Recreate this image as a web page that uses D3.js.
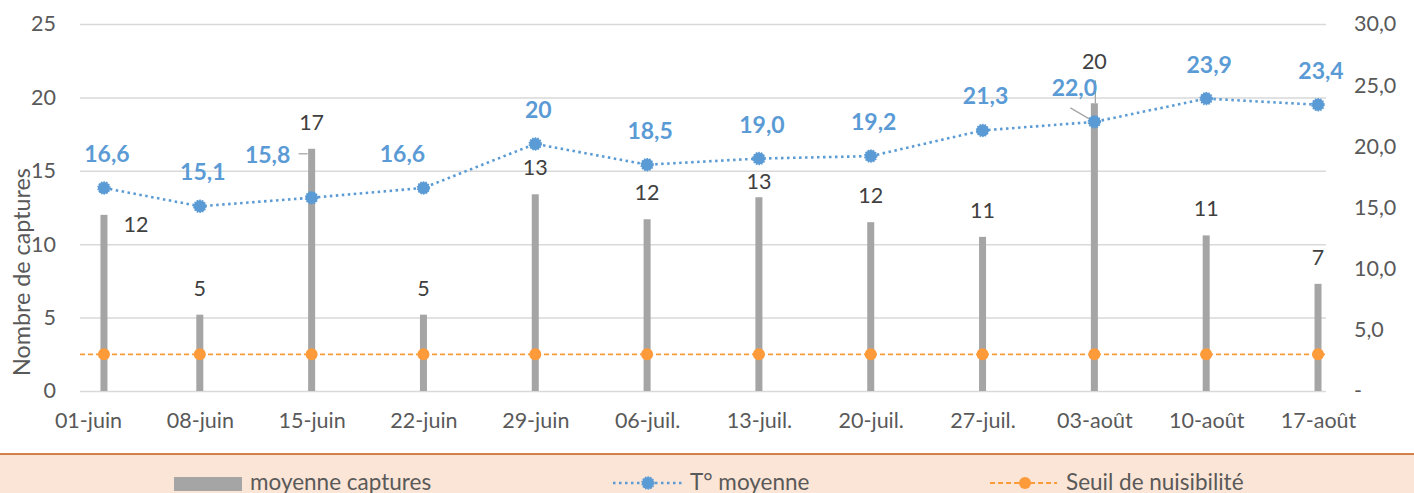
<!DOCTYPE html>
<html><head><meta charset="utf-8">
<script src="https://cdn.jsdelivr.net/npm/d3@7"></script>
<style>
html,body{margin:0;padding:0;background:#fff;overflow:hidden;}
svg{display:block;font-family:Lato, "Open Sans", sans-serif;}
</style></head>
<body>
<svg id="chart" width="1414" height="493"></svg>
<script>
// ---- data ----
const dates = ["2020-06-02","2020-06-08","2020-06-15","2020-06-22","2020-06-29","2020-07-06","2020-07-13","2020-07-20","2020-07-27","2020-08-03","2020-08-10","2020-08-17"];
const captures = [12.0, 5.2, 16.5, 5.2, 13.4, 11.7, 13.2, 11.5, 10.5, 19.6, 10.6, 7.3];
const captureLabels = ["12","5","17","5","13","12","13","12","11","20","11","7"];
const temperature = [16.6, 15.1, 15.8, 16.6, 20.2, 18.5, 19.0, 19.2, 21.3, 22.0, 23.9, 23.4];
const temperatureLabels = ["16,6","15,1","15,8","16,6","20","18,5","19,0","19,2","21,3","22,0","23,9","23,4"];
const seuil = [2.5, 2.5, 2.5, 2.5, 2.5, 2.5, 2.5, 2.5, 2.5, 2.5, 2.5, 2.5];
const tickDates = ["2020-06-01","2020-06-08","2020-06-15","2020-06-22","2020-06-29","2020-07-06","2020-07-13","2020-07-20","2020-07-27","2020-08-03","2020-08-10","2020-08-17"];
const tickLabels = ["01-juin","08-juin","15-juin","22-juin","29-juin","06-juil.","13-juil.","20-juil.","27-juil.","03-août","10-août","17-août"];
const leftTicks = [0,5,10,15,20,25];
const rightTicks = [0,5,10,15,20,25,30];
const legendLabels = ["moyenne captures","T° moyenne","Seuil de nuisibilité"];
const yTitle = "Nombre de captures";

// ---- layout ----
const L = 80, R = 1326, T = 24, B = 391;
const DAY = 86400000;
const parse = s => new Date(s + "T00:00:00Z");
const dts = dates.map(parse);
const tds = tickDates.map(parse);

const svg = d3.select("#chart");
const x = d3.scaleUtc().domain([new Date(+tds[0] - DAY/2), new Date(+tds[tds.length-1] + DAY/2)]).range([L, R]);
const y = d3.scaleLinear().domain([0, 25]).range([B, T]);
const y2 = d3.scaleLinear().domain([0, 30]).range([B, T]);

const gridColor = "#d9d9d9", textColor = "#595959", labelDark = "#404040";
const blue = "#5b9bd5", orange = "#fd9a3a", grey = "#a5a5a5";
const axisFont = "21.5px";

// gridlines
const grid = svg.append("g").attr("transform", `translate(${L},0)`)
  .call(d3.axisLeft(y).tickValues(leftTicks).tickSize(-(R - L)).tickFormat(""));
grid.select(".domain").remove();
grid.selectAll("line").attr("stroke", gridColor).attr("stroke-width", 1.5);

// left axis labels
const la = svg.append("g").attr("transform", `translate(${L},0)`)
  .call(d3.axisLeft(y).tickValues(leftTicks).tickSize(0).tickPadding(24));
la.select(".domain").remove();
la.selectAll("text").attr("fill", textColor).style("font-size", axisFont).style("font-family", "Lato");

// right axis labels
const ra = svg.append("g").attr("transform", `translate(${R},0)`)
  .call(d3.axisRight(y2).tickValues(rightTicks).tickSize(0).tickPadding(28)
    .tickFormat(d => d === 0 ? "-" : d.toFixed(1).replace(".", ",")));
ra.select(".domain").remove();
ra.selectAll("text").attr("fill", textColor).style("font-size", axisFont).style("font-family", "Lato");

// bottom axis labels
const xa = svg.append("g").attr("transform", `translate(0,${B})`)
  .call(d3.axisBottom(x).tickValues(tds).tickSize(0).tickFormat((d, i) => tickLabels[i]));
xa.select(".domain").remove();
xa.selectAll("text").attr("y", 0).attr("dy", 0).attr("transform", "translate(0,37)")
  .attr("fill", textColor).style("font-size", axisFont).style("font-family", "Lato");

// y axis title
svg.append("text").attr("transform", "translate(30,272) rotate(-90)")
  .attr("text-anchor", "middle").attr("fill", textColor)
  .style("font-size", "23.3px").text(yTitle);

// bars
const bw = 7;
svg.append("g").selectAll("rect").data(captures).join("rect")
  .attr("x", (d, i) => x(dts[i]) - bw/2).attr("width", bw)
  .attr("y", d => y(d)).attr("height", d => y(0) - y(d))
  .attr("fill", grey);

// threshold line (constant level across the plot)
svg.append("line").attr("x1", L).attr("x2", R).attr("y1", y(seuil[0])).attr("y2", y(seuil[0]))
  .attr("stroke", orange).attr("stroke-width", 1.8).attr("stroke-dasharray", "5,3");
svg.append("g").selectAll("circle").data(seuil).join("circle")
  .attr("cx", (d, i) => x(dts[i])).attr("cy", d => y(d)).attr("r", 6).attr("fill", orange);

// temperature line
const line = d3.line().x((d, i) => x(dts[i])).y(d => y2(d));
svg.append("path").datum(temperature).attr("d", line).attr("fill", "none")
  .attr("stroke", blue).attr("stroke-width", 2.6).attr("stroke-dasharray", "2.5,3.5");

// leader lines
const leaderColor = "#a6a6a6";
svg.append("line").attr("x1", x(dts[2]) - 13).attr("x2", x(dts[2]) - 4)
  .attr("y1", y(captures[2]) + 5).attr("y2", y(captures[2]) + 5)
  .attr("stroke", leaderColor).attr("stroke-width", 1.3);
svg.append("line").attr("x1", x(dts[9]) + 1).attr("x2", x(dts[9]) + 1)
  .attr("y1", y(captures[9]) - 23).attr("y2", y(captures[9]))
  .attr("stroke", leaderColor).attr("stroke-width", 1.3);
svg.append("line").attr("x1", x(dts[9]) - 24).attr("x2", x(dts[9]))
  .attr("y1", y2(temperature[9]) - 14).attr("y2", y2(temperature[9]))
  .attr("stroke", leaderColor).attr("stroke-width", 1.3);

// temperature markers
function marker(g, cx, cy) {
  g.append("circle").attr("cx", cx).attr("cy", cy).attr("r", 6).attr("fill", blue)
    .attr("stroke", blue).attr("stroke-width", 1.5).attr("stroke-dasharray", "1.5,1.2");
}
const tm = svg.append("g");
temperature.forEach((d, i) => marker(tm, x(dts[i]), y2(d)));

// capture labels (nudges for manually moved labels)
const capNudge = {0: [32, 36], 6: [0, 11], 9: [0, -15]};
svg.append("g").selectAll("text").data(captureLabels).join("text")
  .attr("x", (d, i) => x(dts[i]) + (capNudge[i] ? capNudge[i][0] : 0))
  .attr("y", (d, i) => y(captures[i]) - 19 + (capNudge[i] ? capNudge[i][1] : 0))
  .attr("text-anchor", "middle").attr("fill", labelDark)
  .style("font-size", "21.5px").text(d => d);

// temperature labels
const tNudge = {2: [-47, -9], 3: [-24, 0], 9: [-23, 0]};
svg.append("g").selectAll("text").data(temperatureLabels).join("text")
  .attr("x", (d, i) => x(dts[i]) + 3 + (tNudge[i] ? tNudge[i][0] : 0))
  .attr("y", (d, i) => y2(temperature[i]) - 26 + (tNudge[i] ? tNudge[i][1] : 0))
  .attr("text-anchor", "middle").attr("fill", blue)
  .style("font-size", "23px").style("font-weight", "bold").text(d => d);

// legend
svg.append("rect").attr("x", 0).attr("y", 454).attr("width", 1414).attr("height", 40).attr("fill", "#fbe5d6");
svg.append("line").attr("x1", 0).attr("x2", 1414).attr("y1", 454).attr("y2", 454).attr("stroke", "#c55a11").attr("stroke-width", 1.5);
const lg = svg.append("g");
const legendFont = "22.5px";
lg.append("rect").attr("x", 174).attr("y", 477).attr("width", 68).attr("height", 14).attr("fill", grey);
lg.append("text").attr("x", 250).attr("y", 490).attr("fill", textColor).style("font-size", legendFont).text(legendLabels[0]);
lg.append("line").attr("x1", 613).attr("x2", 682).attr("y1", 483).attr("y2", 483)
  .attr("stroke", blue).attr("stroke-width", 2.6).attr("stroke-dasharray", "2.5,3.5");
marker(lg, 648, 483);
lg.append("text").attr("x", 690).attr("y", 490).attr("fill", textColor).style("font-size", legendFont).text(legendLabels[1]);
lg.append("line").attr("x1", 990).attr("x2", 1057).attr("y1", 483).attr("y2", 483)
  .attr("stroke", orange).attr("stroke-width", 1.8).attr("stroke-dasharray", "5,3");
lg.append("circle").attr("cx", 1025).attr("cy", 483).attr("r", 6).attr("fill", orange);
lg.append("text").attr("x", 1066).attr("y", 490).attr("fill", textColor).style("font-size", legendFont).text(legendLabels[2]);
</script>
</body></html>
